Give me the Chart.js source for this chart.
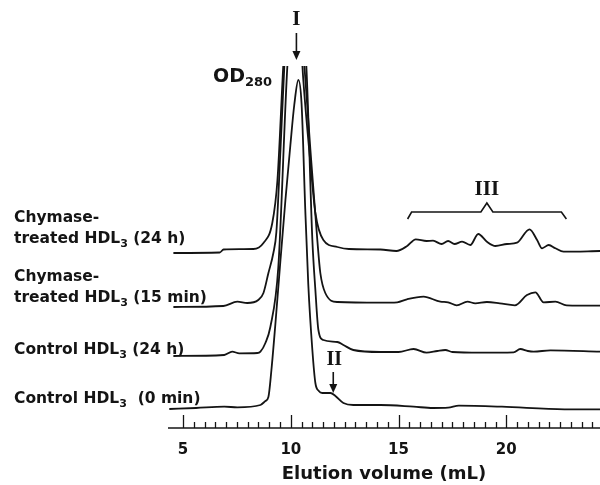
<!DOCTYPE html>
<html>
<head>
<meta charset="utf-8">
<script src="https://cdn.jsdelivr.net/npm/chart.js@4.4.1/dist/chart.umd.min.js"></script>
<style>
  html, body { margin: 0; padding: 0; background: #fff; }
  canvas { display: block; }
</style>
</head>
<body>
<canvas id="chart" width="600" height="485"></canvas>
<script>
// Elution volume (mL) and OD280 signal (arbitrary units, above each trace's own baseline)
const chy24Vol = [4.55, 6.70, 6.88, 8.26, 8.73, 9.14, 9.38, 9.65, 10.10, 10.58, 10.91, 11.14, 11.51, 12.16, 12.70, 14.16, 14.90, 15.40, 15.80, 16.30, 16.60, 17.00, 17.30, 17.60, 17.95, 18.33, 18.70, 19.10, 19.50, 20.03, 20.50, 21.08, 21.43, 21.66, 21.97, 22.28, 22.66, 24.36];
const chy24Abs = [0, 0.5, 3.5, 4, 10, 30, 73, 187, 343, 173, 90, 40, 13, 6, 4, 3.5, 2, 7, 13.7, 12, 12.3, 9, 12, 9, 11.3, 8, 19, 11.3, 7, 9, 10.3, 23.7, 13, 4.7, 8, 4.7, 1.3, 2];

const chy15Vol = [4.55, 6.87, 7.52, 7.98, 8.49, 8.73, 8.96, 9.19, 9.33, 9.52, 9.70, 10.12, 10.63, 10.91, 11.23, 11.37, 11.60, 12.16, 14.16, 14.94, 15.39, 16.16, 16.94, 17.30, 17.70, 18.20, 18.56, 19.10, 19.70, 20.40, 20.96, 21.35, 21.73, 22.28, 22.80, 24.36];
const chy15Abs = [0, 1, 5.3, 4, 7, 14, 34, 54, 75, 157, 241, 367, 241, 157, 67, 34, 14, 5, 4.3, 4.7, 7.7, 10.3, 5.3, 4.7, 1.7, 5.3, 3.7, 5, 3.7, 1.7, 12, 14.7, 4.7, 5.3, 1.7, 1.3];

const ctl24Vol = [4.55, 6.91, 7.28, 7.61, 8.45, 8.59, 8.82, 9.05, 9.42, 9.84, 10.20, 10.72, 11.00, 11.14, 11.28, 11.51, 12.16, 12.44, 12.90, 14.16, 15.00, 15.70, 16.30, 16.80, 17.17, 17.50, 18.80, 20.34, 20.65, 21.00, 21.27, 22.05, 24.36];
const ctl24Abs = [0, 1, 4.3, 2.7, 3, 4.3, 13, 29, 89, 290, 386, 290, 116, 66, 26, 16, 14, 11, 6, 4, 4, 7, 3.3, 5, 6, 4, 3.3, 3.7, 7, 5, 4.3, 5.7, 4.3];

const ctl0Vol = [4.36, 5.60, 6.91, 7.52, 8.59, 8.82, 8.96, 9.10, 9.28, 9.52, 9.75, 9.98, 10.16, 10.35, 10.50, 10.67, 10.81, 11.00, 11.14, 11.30, 11.46, 11.84, 12.07, 12.44, 12.90, 14.16, 15.70, 16.60, 17.30, 17.80, 19.80, 22.70, 24.36];
const ctl0Abs = [0, 1, 2.3, 1.7, 4, 8, 12, 39, 84, 149, 209, 264, 304, 329, 305, 200, 125, 59, 26, 18, 16, 16, 13, 6, 4, 4, 2.3, 1, 1.3, 3.3, 2.3, -0.3, -0.3];

// vertical stacking of the four chromatograms
const traceOffsets = [175, 121, 72, 19];
const tickValues = [5, 10, 15, 20];

const INK = '#141414';

function makeTrace(vols, abs, offset) {
    return {
        data: vols.map((v, i) => ({ x: v, y: abs[i] + offset })),
        borderColor: INK,
        borderWidth: 1.8,
        pointRadius: 0,
        fill: false,
        cubicInterpolationMode: 'monotone',
        clip: 0
    };
}

const datasets = [
    makeTrace(chy24Vol, chy24Abs, traceOffsets[0]),
    makeTrace(chy15Vol, chy15Abs, traceOffsets[1]),
    makeTrace(ctl24Vol, ctl24Abs, traceOffsets[2]),
    makeTrace(ctl0Vol, ctl0Abs, traceOffsets[3])
];

// text with an optional subscript part
function drawParts(ctx, parts, x, y, size) {
    let cx = x;
    parts.forEach(([txt, sub]) => {
        const s = sub ? Math.round(size * 0.7) : size;
        ctx.font = 'bold ' + s + 'px "DejaVu Sans"';
        ctx.fillText(txt, cx, sub ? y + 4 : y);
        cx += ctx.measureText(txt).width;
    });
}

function drawArrow(ctx, px, y0, y1) {
    ctx.lineWidth = 1.6;
    ctx.beginPath();
    ctx.moveTo(px, y0);
    ctx.lineTo(px, y1 - 6);
    ctx.stroke();
    ctx.beginPath();
    ctx.moveTo(px - 4, y1 - 9);
    ctx.lineTo(px + 4, y1 - 9);
    ctx.lineTo(px, y1);
    ctx.closePath();
    ctx.fill();
}

const decorations = {
    id: 'decorations',
    afterDraw(chart) {
        const { ctx, chartArea, scales: { x } } = chart;
        const yb = chartArea.bottom;
        ctx.save();
        ctx.strokeStyle = INK;
        ctx.fillStyle = INK;

        // axis line with ticks pointing up
        ctx.lineWidth = 1.6;
        ctx.beginPath();
        ctx.moveTo(x.getPixelForValue(x.min), yb);
        ctx.lineTo(chartArea.right, yb);
        ctx.stroke();
        ctx.lineWidth = 1.3;
        for (let v = 5; v <= 24.01; v += 0.5) {
            const px = Math.round(x.getPixelForValue(v)) + 0.5;
            const major = Math.abs(v % 5) < 1e-6;
            ctx.beginPath();
            ctx.moveTo(px, yb);
            ctx.lineTo(px, yb - (major ? 13 : 6));
            ctx.stroke();
        }

        // trace labels
        ctx.textAlign = 'left';
        ctx.textBaseline = 'alphabetic';
        const fs = 15.5;
        drawParts(ctx, [['Chymase-', false]], 14, 222, fs);
        drawParts(ctx, [['treated HDL', false], ['3', true], [' (24 h)', false]], 14, 243, fs);
        drawParts(ctx, [['Chymase-', false]], 14, 281, fs);
        drawParts(ctx, [['treated HDL', false], ['3', true], [' (15 min)', false]], 14, 302, fs);
        drawParts(ctx, [['Control HDL', false], ['3', true], [' (24 h)', false]], 14, 354, fs);
        drawParts(ctx, [['Control HDL', false], ['3', true], ['  (0 min)', false]], 14, 403, fs);

        // OD280
        ctx.font = 'bold 19px "DejaVu Sans"';
        ctx.fillText('OD', 213, 82);
        const odw = ctx.measureText('OD').width;
        ctx.font = 'bold 13px "DejaVu Sans"';
        ctx.fillText('280', 213 + odw, 86);

        // peak markers
        ctx.textAlign = 'center';
        ctx.textBaseline = 'middle';
        ctx.font = 'bold 21px "Liberation Serif"';
        const pI = x.getPixelForValue(10.26);
        ctx.fillText('I', pI, 20);
        drawArrow(ctx, pI, 33, 60);

        ctx.font = 'bold 20px "Liberation Serif"';
        const pII = x.getPixelForValue(11.97);
        ctx.fillText('II', pII + 1, 360);
        drawArrow(ctx, pII, 372, 393);

        ctx.font = 'bold 21px "Liberation Serif"';
        const pIII = x.getPixelForValue(19.1);
        ctx.fillText('III', pIII, 190);
        const bL = x.getPixelForValue(15.42), bR = x.getPixelForValue(22.79);
        ctx.lineWidth = 1.6;
        ctx.beginPath();
        ctx.moveTo(bL, 219);
        ctx.lineTo(bL + 4, 212);
        ctx.lineTo(pIII - 6, 212);
        ctx.lineTo(pIII, 203);
        ctx.lineTo(pIII + 6, 212);
        ctx.lineTo(bR - 5, 212);
        ctx.lineTo(bR, 219);
        ctx.stroke();

        ctx.restore();
    }
};

new Chart(document.getElementById('chart'), {
    type: 'line',
    data: { datasets },
    options: {
        responsive: false,
        animation: false,
        devicePixelRatio: 1,
        layout: { padding: { left: 168, top: 66, right: 0, bottom: 0 } },
        plugins: {
            legend: { display: false },
            tooltip: { enabled: false }
        },
        scales: {
            x: {
                type: 'linear',
                min: 4.3,
                max: 24.35,
                grid: { display: false, drawTicks: false },
                border: { display: false },
                afterBuildTicks: (scale) => {
                    scale.ticks = tickValues.map(v => ({ value: v }));
                },
                afterFit: (scale) => {
                    scale.height = 57;
                },
                ticks: {
                    color: INK,
                    autoSkip: false,
                    maxRotation: 0,
                    padding: 13,
                    font: { family: 'DejaVu Sans', weight: 'bold', size: 15 }
                },
                title: {
                    display: true,
                    text: 'Elution volume (mL)',
                    color: INK,
                    padding: { top: 4, bottom: 0 },
                    font: { family: 'DejaVu Sans', weight: 'bold', size: 18 }
                }
            },
            y: { display: false, min: 0, max: 362 }
        }
    },
    plugins: [decorations]
});
</script>
</body>
</html>
